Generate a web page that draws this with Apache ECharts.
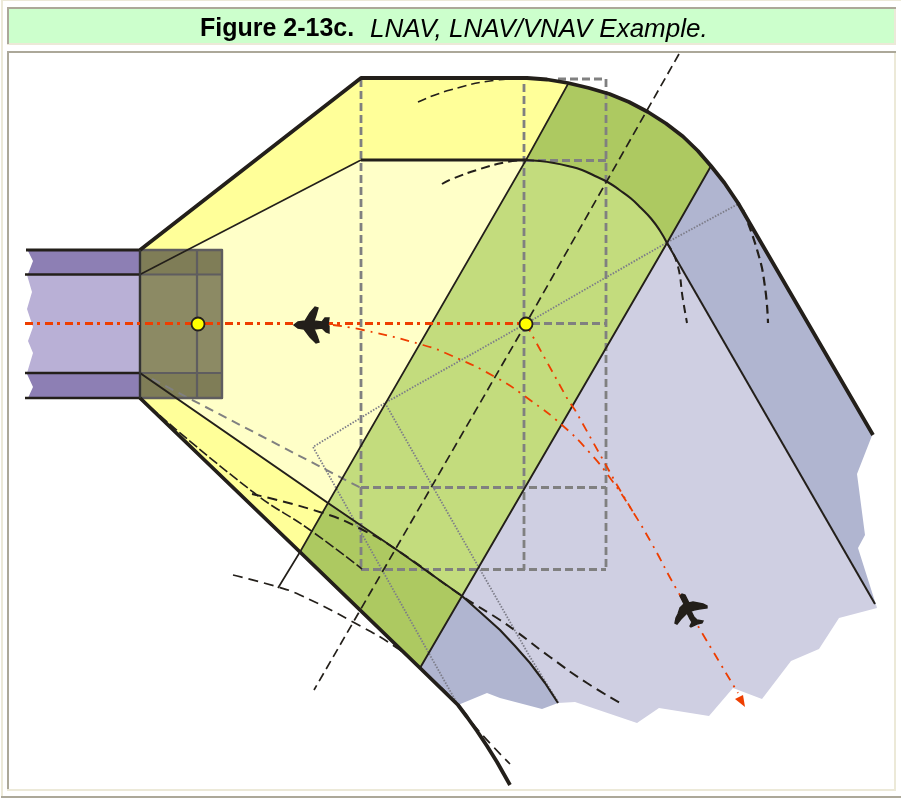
<!DOCTYPE html>
<html>
<head>
<meta charset="utf-8">
<style>html,body{margin:0;padding:0;background:#fff}#c{width:901px;height:798px}</style>
<script src="https://cdn.jsdelivr.net/npm/echarts@6/dist/echarts.min.js"></script>
</head>
<body>
<div id="c"></div>
<script>
const titleBold = "Figure 2-13c.";
const titleItalic = "LNAV, LNAV/VNAV Example.";

// frame
const frameCreamLeft = [[1,0],[3,0],[3,798],[1,798]];
const frameCreamTop = [[1,0],[901,0],[901,1],[1,1]];
const frameGrayBottom = [[1,796],[901,796],[901,798],[1,798]];
const titleCream = [[9,9],[896,9],[896,45],[7,45],[7,43],[9,43]];
const titleFill = [[9,9],[894,9],[894,43],[9,43]];
const titleGrayTop = [[7,7],[896,7],[896,9],[7,9]];
const titleGrayLeft = [[7,7],[9,7],[9,44],[7,44]];
const boxCream = [[894,53],[896,53],[896,791],[7,791],[7,789],[894,789]];
const boxGrayTop = [[7,51],[896,51],[896,53],[7,53]];
const boxGrayLeft = [[7,51],[9,51],[9,789],[7,789]];

// protected-area bands before the first waypoint
const bandTop = [[28,251],[140,251],[140,274],[28,274],[33,261]];
const bandMid = [[27,275],[140,275],[140,373],[27,373],[33,353],[28,341],[33,327],[27,309],[32,292]];
const bandBot = [[27,374],[140,374],[140,398],[28,398],[33,387]];

// turn arcs
const outerArc = [[527,78],[547,79.5],[568,83],[589,88],[609.5,94],[629,102],[648,112],[666,123.5],[683,136.5],[698,151],[711,166],[724.5,183],[738,203]];
const innerArc = [[526,160],[540,161],[554,163],[568,166],[582,170],[595,176],[607.5,182],[619.5,190],[631,198.5],[641,208],[651,218.5],[659.5,230],[667,243]];
const innerLowerCurve = [[462,596],[480,612],[500,630],[515,646],[530,663],[545,683],[558,703]];

// regions
const yellowUpper = [[140,250],[361,78],[527,78],[547,79.5],[568,83],[526,160],[361,160],[140,274]];
const yellowLower = [[140,373],[328,503],[300,552],[140,398]];
const paleYellow = [[140,274],[361,160],[526,160],[328,503],[140,373]];
const greenLight = innerArc.concat([[462,596],[328,503]]);
const greenUpper = outerArc.slice(2,11).concat(innerArc.slice().reverse());
const greenLower = [[328,503],[462,596],[420,668],[360,610],[300,552]];
const blueUpper = [[711,166],[724.5,183],[738,203],[873,433],[857,474],[865,535],[858,548],[877,608],[875,604],[667,243]];
const blueLower = innerLowerCurve.concat([[542,709],[500,698],[487,693],[458,705],[420,668]]);
const lilac = [[667,243],[875,604],[877,608],[839,618],[819,649],[791,661],[762,699],[733,688],[709,716],[659,708],[637,723],[575,702]].concat(innerLowerCurve.slice().reverse());

// holding square at the first waypoint
const squareDarkTop = [[140,250],[222,250],[222,274],[140,274]];
const squareMid = [[140,274],[222,274],[222,373],[140,373]];
const squareDarkBot = [[140,373],[222,373],[222,398],[140,398]];
const squareOutline = [[140,250],[222,250],[222,398],[140,398],[140,250]];
const squareV = [[197,250],[197,398]];
const squareH1 = [[140,274.5],[222,274.5]];
const squareH2 = [[140,373],[222,373]];

// gray dashed construction lines
const gdX361 = [[361,79],[361,570]];
const gdX524 = [[524,84],[524,570]];
const gdX606 = [[606,79],[606,570]];
const gdTop = [[558,79],[606,79]];
const gdY160 = [[526,160.5],[606,160.5]];
const gdY324 = [[532,323.5],[606,323.5]];
const gdY488 = [[361,487.5],[606,487.5]];
const gdY570 = [[361,569.5],[606,569.5]];
const gdDiag = [[152,379],[361,488]];

// gray dotted lines
const dotA = [[740,203],[666,243],[526,323.5],[385,403],[313,447],[458,705]];
const dotB = [[385,403],[530,657],[558,702]];

// black dashed lines
const blackBisector = [[679,54],[526,323.5],[314,690]];
const dashTop = [[418,102],[450,90],[497,80],[527,78]];
const dashInnerTop = [[442,184],[452,179],[480,169],[507,162],[525,160]];
const dashRightIn = [[667,243],[677,263],[683,300],[687,323]];
const dashRightOut = [[743,210],[758,253],[765,287],[768,323]];
const dashLowOuter = [[233,575],[278,587],[300,595],[353,622],[397,648],[420,668],[458,705],[478,730],[510,764]];
const dashLowInner = [[252,494],[323,513],[363,530],[397,550],[462,596],[500,620],[517,632],[550,657],[587,683],[622,704]];
const dashThin = [[150,407],[253,492],[310,530],[362,569]];

// black solid lines
const outerTop = [[140,250],[361,78]].concat(outerArc,[[873,435]]);
const outerBottom = [[140,398],[300,552],[360,610],[420,668],[458,705],[467,717],[477,731],[487,746],[497,762],[510,785]];
const innerTopThin = [[140,274.5],[361,160]];
const innerTopThick = [[361,160],[526,160]];
const innerRight = [[667,243],[875,604]];
const innerLower = [[140,373],[328,503],[397,550]].concat(innerLowerCurve);
const radialStart = [[568,84],[526,160],[328,503],[300,552],[278,588]];
const radialEnd = [[711,166],[667,243],[462,596],[420,668]];
const bandLine1 = [[26,250],[140,250]];
const bandLine2 = [[25,274.5],[140,274.5]];
const bandLine3 = [[25,373],[140,373]];
const bandLine4 = [[25,398],[140,398]];
const bandLineV = [[140,250],[140,398]];

// flight paths
const redThick = [[25,323.5],[526,323.5]];
const redCurve = [[333,325],[363,330],[423,345],[450,355],[497,378],[530,400],[562,425],[590,453],[613,482],[633,512],[652,544],[677,590],[738,693]];
const redFlyOver = [[526,323.5],[532,335],[568,400],[575,410],[607,467],[617,485],[633,512]];
const redArrow = [[735,699],[743,695],[745,707]];

// aircraft outlines
const plane1 = [[294,325],[298,322],[305,321],[310,313],[315,307],[318,308],[316,315],[314,321],[322,322],[325,318],[329,318],[328,325],[329,326],[329,333],[326,332],[322,328],[314,329],[317,336],[319,342],[316,343],[310,337],[304,329],[298,328]];
const plane2 = [[680,596],[682,594],[685,595],[687,599],[689,603],[693,602],[698,603],[703,604],[707,606],[707,608],[699,609],[694,610],[691,611],[694,617],[697,620],[703,621],[702,623],[697,624],[691,627],[690,626],[692,622],[690,619],[687,613],[684,616],[681,619],[677,624],[675,623],[676,618],[678,614],[680,608],[684,604],[682,600]];

// waypoints
const waypoints = [[198,324],[526,324]];

const series = [];
function poly(pts, color, z, stroke){
  series.push({type:'custom',coordinateSystem:'cartesian2d',silent:true,clip:false,z:z||1,data:[[0,0]],
    renderItem:(p,api)=>({type:'polygon',shape:{points:pts.map(q=>api.coord(q))},style:{fill:color,stroke:stroke?color:null,lineWidth:stroke||0}})});
}
function line(pts,color,width,dash,smooth,z){
  series.push({type:'line',data:pts,showSymbol:false,symbol:'none',silent:true,clip:false,smooth:!!smooth,z:z||2,
    lineStyle:{color,width,type:dash||'solid',cap:'butt',join:'round'}});
}

[[frameCreamLeft,'#ece9d8'],[frameCreamTop,'#ece9d8'],[frameGrayBottom,'#aca899'],
 [titleCream,'#ece9d8'],[titleFill,'#ccffcc'],[titleGrayTop,'#aca899'],[titleGrayLeft,'#aca899'],
 [boxCream,'#ece9d8'],[boxGrayTop,'#aca899'],[boxGrayLeft,'#aca899'],
 [bandTop,'#8d7fb4'],[bandMid,'#b9b0d6'],[bandBot,'#8d7fb4'],
 [paleYellow,'#ffffc8'],[yellowUpper,'#ffff99'],[yellowLower,'#ffff99'],
 [lilac,'#cfcfe2'],[blueUpper,'#b0b5d0'],[blueLower,'#b0b5d0'],
 [greenLight,'#c3dc7d'],[greenUpper,'#adc961'],[greenLower,'#adc961'],
 [squareDarkTop,'#7f7d57'],[squareMid,'#8c8a64'],[squareDarkBot,'#7f7d57']].forEach(a=>poly(a[0],a[1]));

const G='#808080', K='#231f1a', R='#ee3e00';
[gdX361,gdX524,gdX606,gdTop,gdY160,gdY324,gdY488,gdY570].forEach(p=>line(p,G,2.8,[8,4]));
line(gdDiag,G,2,[9,6]);
line(squareOutline,'#5f5d5f',2.4);line(squareV,'#5f5d5f',2.2);line(squareH1,'#5f5d5f',2.2);line(squareH2,'#5f5d5f',2.2);
line(dotA,'#7c7c88',1.8,[1.5,1.5]);line(dotB,'#7c7c88',1.8,[1.5,1.5]);

line(blackBisector,K,1.7,[9,5],false,3);
line(dashTop,K,1.6,[9,5],true,3);
line(dashInnerTop,K,2,[9,5],true,3);
line(dashRightIn,K,2,[8,5],true,3);
line(dashRightOut,K,2.2,[9,5],true,3);
line(dashLowOuter,K,1.7,[10,6],true,3);
line(dashLowInner,K,2,[10,6],true,3);
line(dashThin,K,1.6,[10,3],true,3);

line(innerTopThin,K,1.6,null,false,3);line(innerTopThick,K,2.8,null,false,3);line(innerArc,K,2.1,null,true,3);
line(innerRight,K,2,null,false,3);line(innerLower,K,2.1,null,false,3);
line(radialStart,K,1.7,null,false,3);line(radialEnd,K,1.9,null,false,3);
line(outerTop,K,3.8,null,false,3);line(outerBottom,K,3.8,null,false,3);
line(bandLine1,K,3,null,false,3);line(bandLine2,K,2.6,null,false,3);line(bandLine3,K,2.6,null,false,3);line(bandLine4,K,2.4,null,false,3);line(bandLineV,'#333',2.2,null,false,3);

line(redThick,R,3,[8,4,3,5],false,4);
line(redCurve,R,1.8,[9,6,2,6],true,4);
line(redFlyOver,R,1.8,[9,6,2,6],false,4);
poly(redArrow,R,4);
poly(plane1,K,5,1.4);poly(plane2,K,5,1.4);

series.push({type:'scatter',data:waypoints,symbol:'circle',symbolSize:13,silent:true,z:6,
  itemStyle:{color:'#ffff00',borderColor:K,borderWidth:1.8,opacity:1}});

const chart = echarts.init(document.getElementById('c'),null,{renderer:'canvas'});
chart.setOption({
  animation:false,backgroundColor:'#ffffff',
  title:[
    {text:titleBold,left:200,top:17,padding:0,textStyle:{fontFamily:'"Liberation Sans",Arial,sans-serif',fontSize:25,fontWeight:'bold',color:'#000'}},
    {text:titleItalic,left:370,top:17,padding:0,textStyle:{fontFamily:'"Liberation Sans",Arial,sans-serif',fontSize:26,fontWeight:'normal',fontStyle:'italic',color:'#000'}}
  ],
  grid:{left:0,right:0,top:0,bottom:0},
  xAxis:{type:'value',min:0,max:901,show:false},
  yAxis:{type:'value',min:0,max:798,inverse:true,show:false},
  series
});
</script>
</body>
</html>
